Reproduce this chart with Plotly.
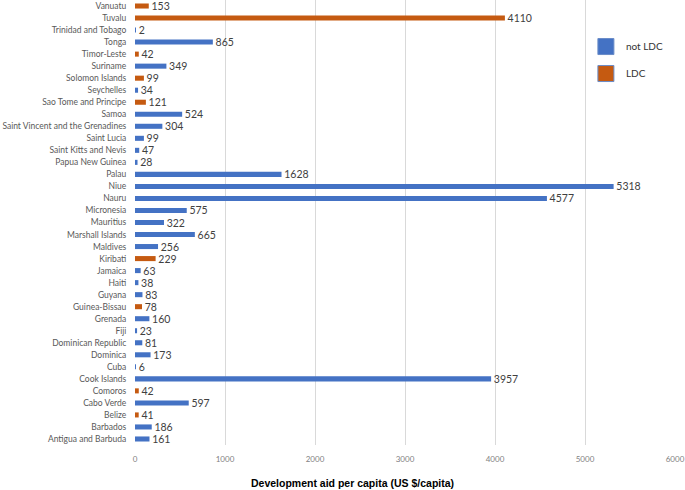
import plotly.graph_objects as go

countries = ["Antigua and Barbuda", "Barbados", "Belize", "Cabo Verde", "Comoros", "Cook Islands",
             "Cuba", "Dominica", "Dominican Republic", "Fiji", "Grenada", "Guinea-Bissau", "Guyana",
             "Haiti", "Jamaica", "Kiribati", "Maldives", "Marshall Islands", "Mauritius", "Micronesia",
             "Nauru", "Niue", "Palau", "Papua New Guinea", "Saint Kitts and Nevis", "Saint Lucia",
             "Saint Vincent and the Grenadines", "Samoa", "Sao Tome and Principe", "Seychelles",
             "Solomon Islands", "Suriname", "Timor-Leste", "Tonga", "Trinidad and Tobago", "Tuvalu",
             "Vanuatu"]
aid = [161, 186, 41, 597, 42, 3957, 6, 173, 81, 23, 160, 78, 83, 38, 63, 229, 256, 665, 322, 575,
       4577, 5318, 1628, 28, 47, 99, 304, 524, 121, 34, 99, 349, 42, 865, 2, 4110, 153]
ldc_list = ["Belize", "Comoros", "Guinea-Bissau", "Kiribati", "Sao Tome and Principe",
            "Solomon Islands", "Timor-Leste", "Tuvalu", "Vanuatu"]

x_ticks = [0, 1000, 2000, 3000, 4000, 5000, 6000]

BLUE = "#4472C4"
ORANGE = "#C55A11"

not_c = [c for c in countries if c not in ldc_list]
not_v = [v for c, v in zip(countries, aid) if c not in ldc_list]
ldc_c = [c for c in countries if c in ldc_list]
ldc_v = [v for c, v in zip(countries, aid) if c in ldc_list]

fig = go.Figure()
for name, cs, vs, col in [("not LDC", not_c, not_v, BLUE), ("LDC", ldc_c, ldc_v, ORANGE)]:
    fig.add_trace(go.Bar(
        y=cs, x=vs, orientation="h", name=name, marker=dict(color=col, line=dict(width=0)),
        width=0.42, text=["\u00a0" + str(v) for v in vs], textposition="outside",
        constraintext="none",
        textfont=dict(family="Lato", size=10.5, color="#404040"), cliponaxis=False,
        showlegend=False, hoverinfo="none",
    ))
for i, (name, col) in enumerate([("not LDC", BLUE), ("LDC", ORANGE)]):
    fig.add_trace(go.Scatter(
        x=[None], y=[None], mode="markers", name=name, legendgroup=name,
        marker=dict(symbol="square", size=16, color=col, line=dict(color="#6A8CC8", width=1)),
    ))

fig.update_layout(
    width=685, height=490,
    margin=dict(l=135, r=10, t=0, b=45, autoexpand=False),
    paper_bgcolor="white", plot_bgcolor="white",
    barmode="overlay",
    font=dict(family="Lato", size=10, color="#595959"),
    xaxis=dict(range=[0, 6000], tickvals=x_ticks, showgrid=True, gridcolor="#D9D9D9",
               gridwidth=1, zeroline=False, showline=False, automargin=False,
               tickfont=dict(family="Lato", size=8, color="#7F7F7F"),
               ticks="outside", ticklen=6, tickcolor="rgba(0,0,0,0)"),
    yaxis=dict(categoryorder="array", categoryarray=countries, range=[-0.5, 36.5],
               showgrid=False, zeroline=False, showline=False, automargin=False,
               tickfont=dict(family="Lato", size=8.5, color="#595959"),
               ticks="outside", ticklen=6, tickcolor="rgba(0,0,0,0)"),
    legend=dict(x=0.835, y=0.928, xanchor="left", yanchor="top", bgcolor="rgba(0,0,0,0)",
                font=dict(family="Lato", size=10, color="#333333"), tracegroupgap=8,
                itemwidth=30),
    annotations=[dict(text="<b>Development aid per capita (US $/capita)</b>", xref="paper",
                      yref="paper", x=0.402, y=-0.085, xanchor="center", yanchor="middle",
                      showarrow=False, font=dict(family="Liberation Sans", size=10.5, color="black"))],
)

fig.write_html("out.html", config={"displayModeBar": False},
               post_script="document.body.style.margin='0';")
